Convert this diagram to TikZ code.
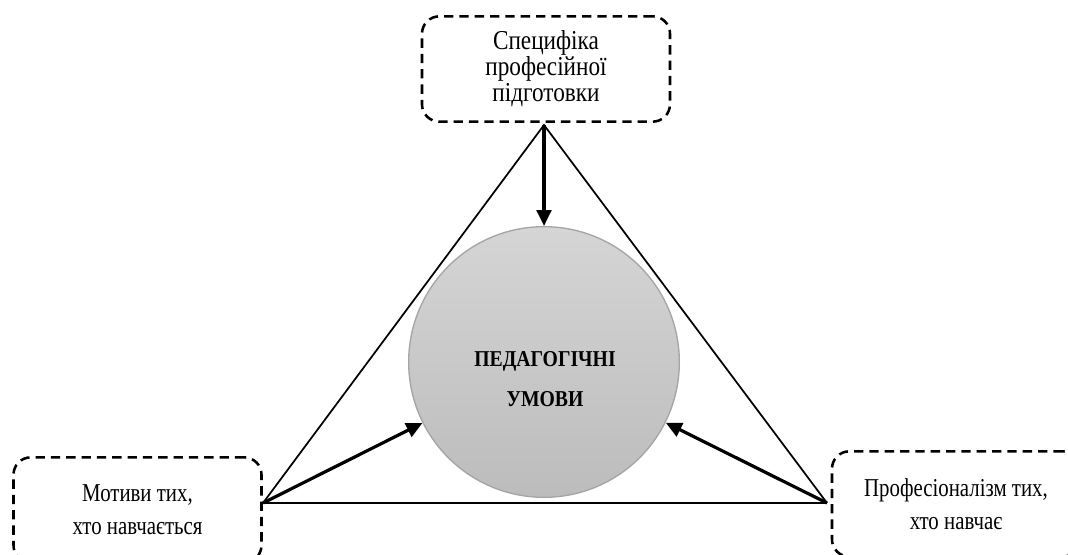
\documentclass[tikz,border=0pt]{standalone}
\usepackage{fontspec}
\setmainfont{Liberation Serif}[FakeStretch=0.87]
\newfontfamily\topfont[FakeStretch=0.85]{Liberation Serif}
\newfontfamily\sidefont[FakeStretch=0.81]{Liberation Serif}
\usetikzlibrary{arrows.meta,positioning}
\definecolor{circtop}{RGB}{213,213,213}
\definecolor{circbot}{RGB}{188,188,188}
\definecolor{circline}{RGB}{165,165,165}

\begin{document}
\begin{tikzpicture}[x=0.75pt,y=-0.75pt,
   box/.style={draw,line width=1.9pt,dash pattern=on 7pt off 4.5pt,rounded corners=13pt,
               minimum width=186pt,minimum height=79pt,align=center,
               font=\sidefont\fontsize{19.3}{25}\selectfont},
   arr/.style={-{Triangle[length=12pt,width=11pt]},line width=2.4pt}]
  \clip (0,0) rectangle (1068,554);
  \node[box,font=\topfont\fontsize{20.5}{19.5}\selectfont] (spec) at (546,69)
       {Специфіка\\ професійної\\ підготовки};
  \node[box] (motiv) at (137.5,510) {Мотиви тих,\\ хто навчається};
  \node[box] (prof) at (956,504) {Професіоналізм тих,\\ хто навчає};
  % triangle
  \coordinate (apex) at (544,125);
  \coordinate (lv) at (263,503);
  \coordinate (rv) at (827,503);
  \draw[line width=1.3pt] (lv) -- (apex) -- (rv);
  \draw[line width=2pt] (lv) -- (rv);
  \node[circle,draw=circline,line width=1pt,top color=circtop,bottom color=circbot,
        minimum size=203pt] (umovy) at (544,362) {};
  \node[align=center,font=\bfseries\fontsize{17}{30}\selectfont] (umovytext) at (545,379)
       {ПЕДАГОГІЧНІ\\ УМОВИ};
  \draw[arr] (apex) -- (umovy);
  \draw[arr] (lv) -- (umovy);
  \draw[arr] (rv) -- (umovy);
\end{tikzpicture}
\end{document}
